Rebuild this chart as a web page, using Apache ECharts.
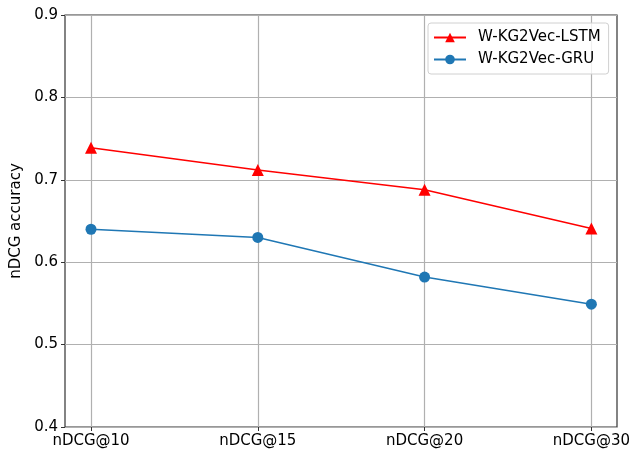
<!DOCTYPE html>
<html><head><meta charset="utf-8">
<script src="https://cdn.jsdelivr.net/npm/echarts@6/dist/echarts.min.js"></script>
<style>html,body{margin:0;padding:0;background:#fff}#c{width:633px;height:454px}</style>
</head><body><div id="c"></div>
<script>
const categories = ['nDCG@10', 'nDCG@15', 'nDCG@20', 'nDCG@30'];
const lstmValues = [0.739, 0.712, 0.688, 0.641];
const gruValues = [0.640, 0.630, 0.582, 0.549];
const seriesNames = ['W-KG2Vec-LSTM', 'W-KG2Vec-GRU'];
const yMin = 0.4, yMax = 0.9, yStep = 0.1;

const font = 'DejaVu Sans';
const chart = echarts.init(document.getElementById('c'), null, {renderer: 'canvas'});
chart.setOption({
  animation: false,
  backgroundColor: '#fff',
  textStyle: {fontFamily: font},
  grid: [
    {left: 65, right: 16, top: 15, bottom: 27, show: true, borderColor: '#333', borderWidth: 1.2, containLabel: false},
    {left: 91, right: 41, top: 15, bottom: 27, containLabel: false}
  ],
  xAxis: [
    {gridIndex: 0, type: 'value', min: 0, max: 1, show: false},
    {gridIndex: 1, type: 'category', data: categories, boundaryGap: false,
     axisLine: {show: false},
     axisTick: {show: true, length: 4, alignWithLabel: true, lineStyle: {color: '#333'}, inside: false},
     axisLabel: {fontSize: 15, color: '#000', margin: 7, fontFamily: font},
     splitLine: {show: true, lineStyle: {color: '#b0b0b0', width: 1.2}}}
  ],
  yAxis: [
    {gridIndex: 0, type: 'value', min: yMin, max: yMax, interval: yStep,
     name: 'nDCG accuracy', nameLocation: 'middle', nameGap: 40, nameRotate: 90,
     nameTextStyle: {fontSize: 15, color: '#000', fontFamily: font},
     axisLine: {show: false},
     axisTick: {show: true, length: 4, lineStyle: {color: '#333'}},
     axisLabel: {fontSize: 15, color: '#000', margin: 7, fontFamily: font, formatter: v => v.toFixed(1)},
     splitLine: {show: true, lineStyle: {color: '#b0b0b0', width: 1.2}}},
    {gridIndex: 1, type: 'value', min: yMin, max: yMax, interval: yStep, show: false}
  ],
  legend: {
    orient: 'vertical', left: 428, top: 23, width: 181,
    padding: [7, 8, 7, 5], itemGap: 7, itemWidth: 32, itemHeight: 12,
    backgroundColor: 'rgba(255,255,255,0.8)', borderColor: '#d0d0d0', borderWidth: 1, borderRadius: 3,
    textStyle: {fontSize: 15, color: '#000', fontFamily: font, padding: [0, 4, 0, 7]},
    data: seriesNames
  },
  series: [
    {name: seriesNames[0], type: 'line', xAxisIndex: 1, yAxisIndex: 1, data: lstmValues,
     symbol: 'triangle', symbolSize: 12, color: '#ff0000',
     lineStyle: {width: 1.5, color: '#ff0000'}, itemStyle: {color: '#ff0000'}},
    {name: seriesNames[1], type: 'line', xAxisIndex: 1, yAxisIndex: 1, data: gruValues,
     symbol: 'circle', symbolSize: 11, color: '#1f77b4',
     lineStyle: {width: 1.5, color: '#1f77b4'}, itemStyle: {color: '#1f77b4'}}
  ]
});
</script></body></html>
